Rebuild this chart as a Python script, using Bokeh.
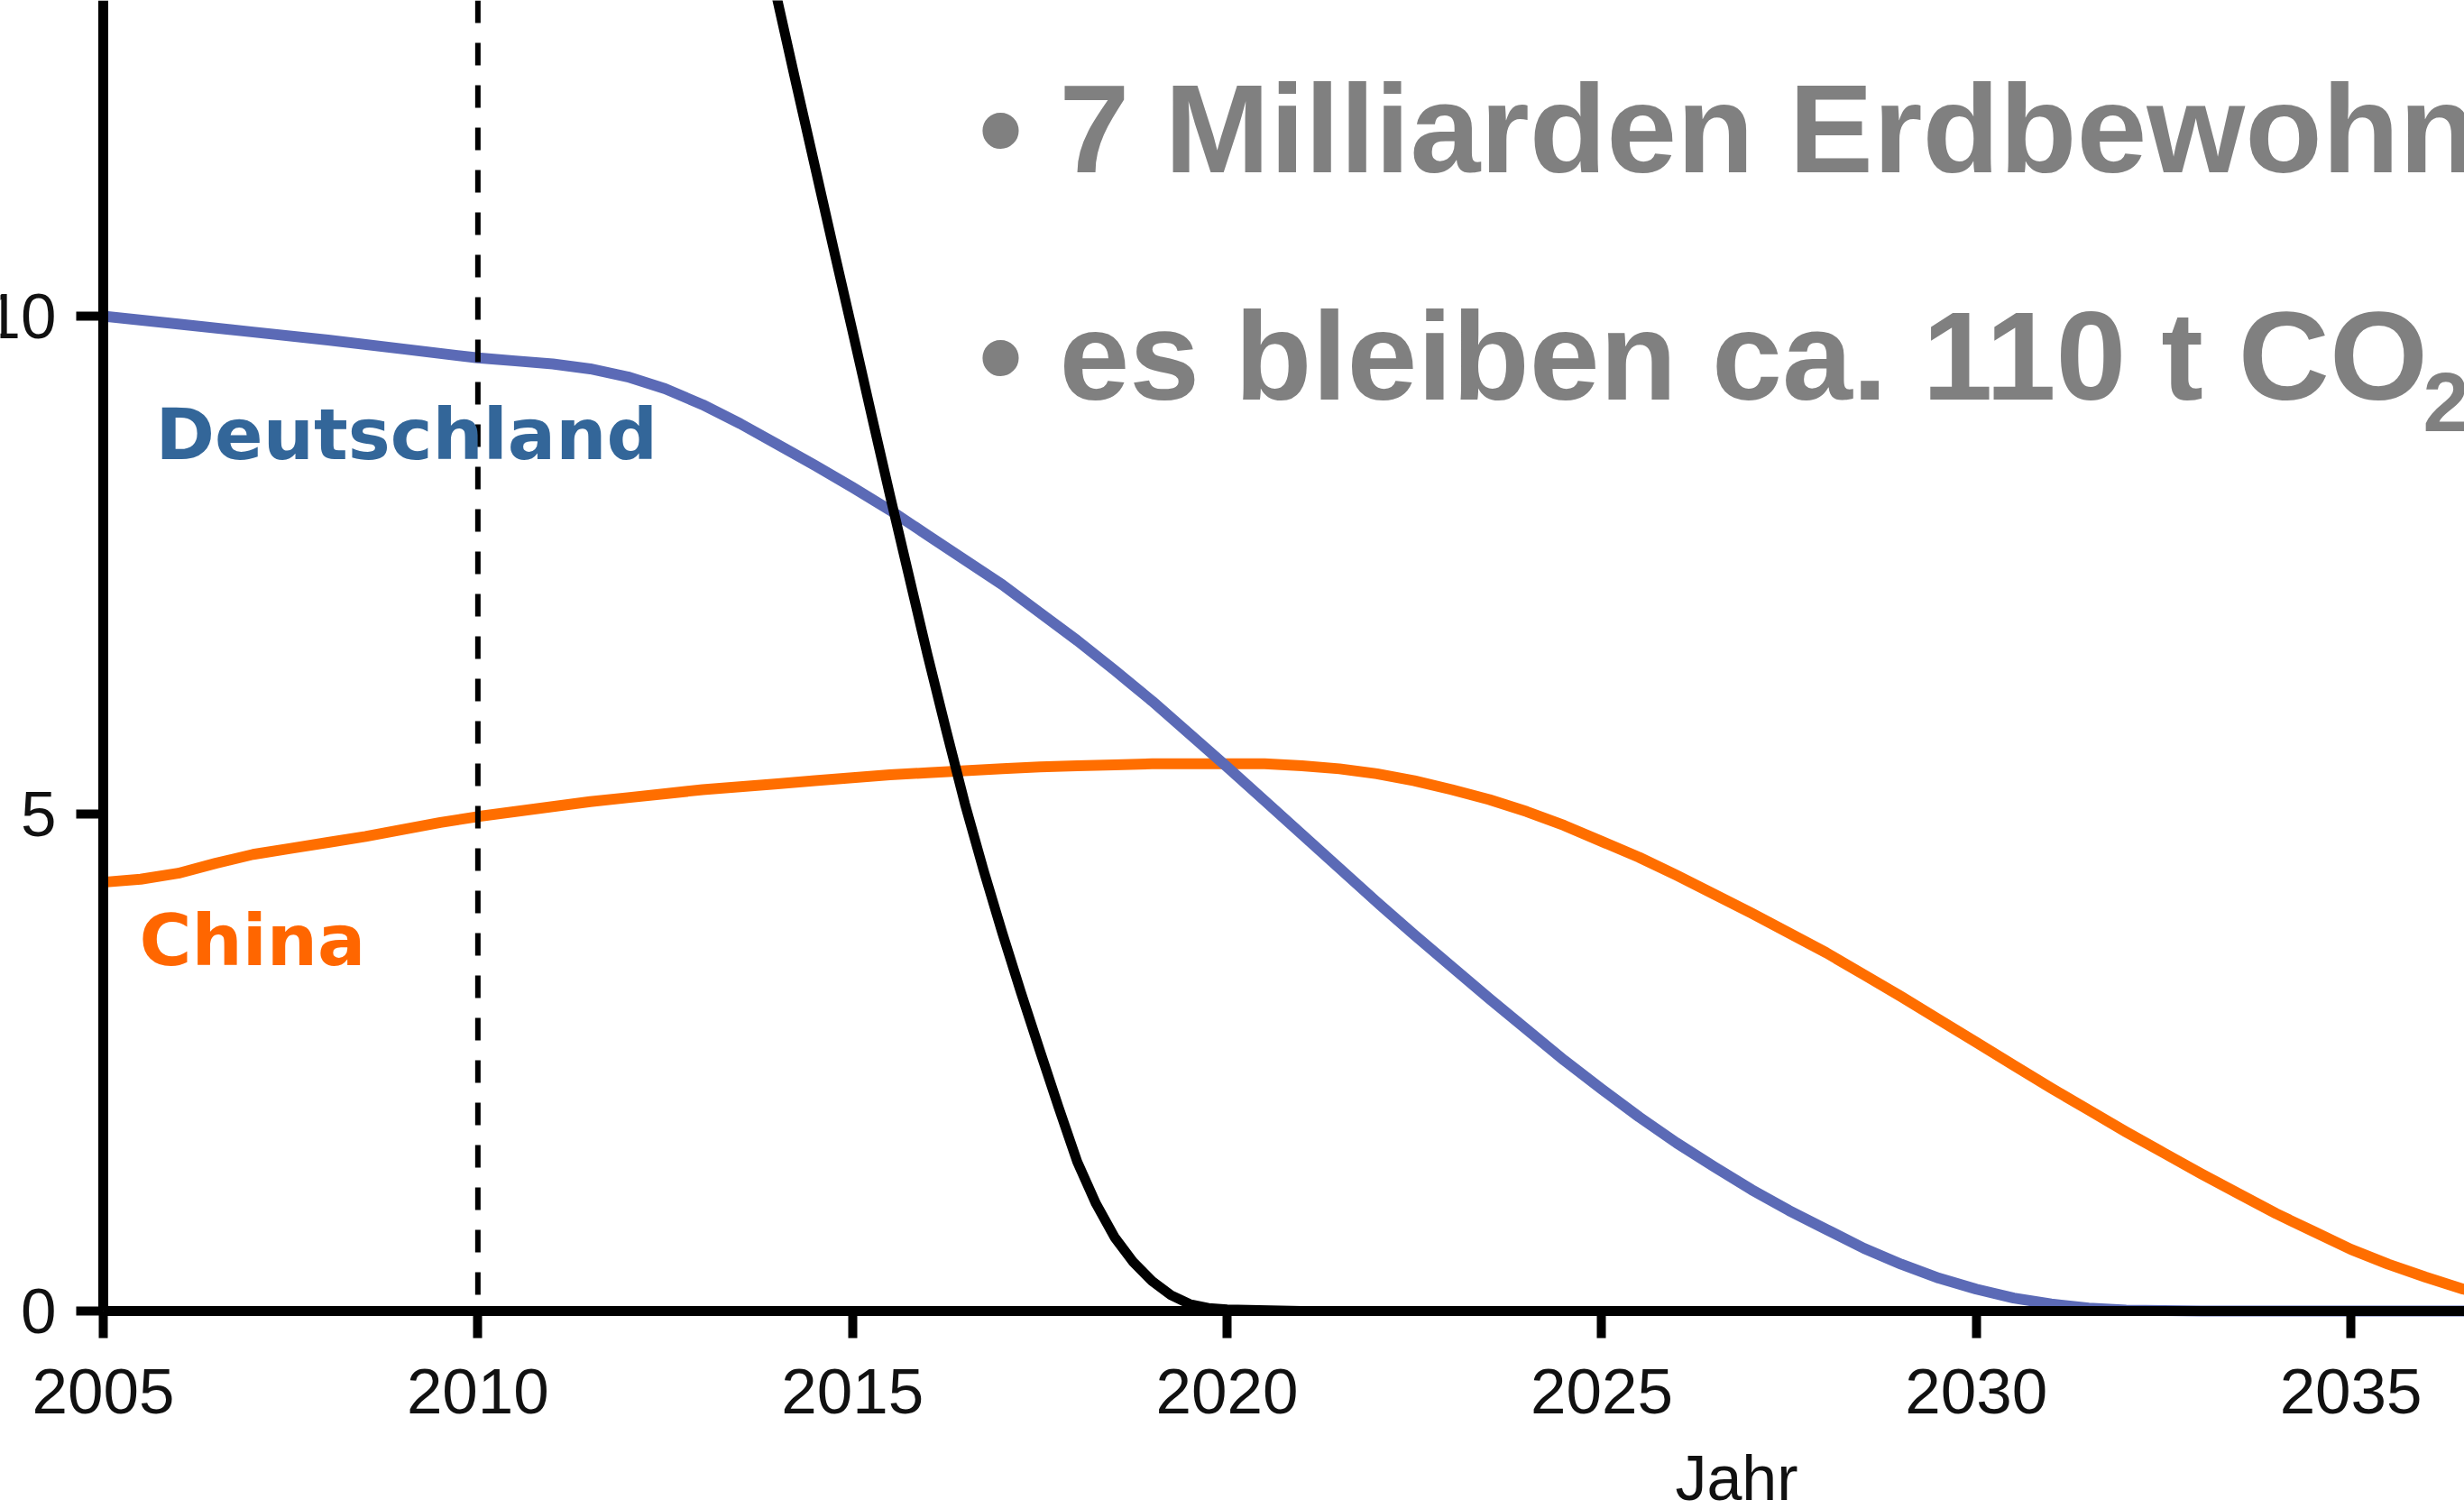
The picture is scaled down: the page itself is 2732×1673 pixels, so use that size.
from bokeh.plotting import figure
from bokeh.models import Range1d, FixedTicker, Label
from bokeh.embed import file_html
from bokeh.resources import INLINE

# ---------------- data ----------------
years_de = [2005, 2006, 2007, 2008, 2009, 2010, 2010.5, 2011, 2011.5, 2012,
            2012.5, 2013, 2013.5, 2014, 2014.5, 2015, 2015.5, 2016, 2016.5,
            2017, 2017.5, 2018, 2018.5, 2019, 2019.5, 2020, 2020.5, 2021,
            2021.5, 2022, 2022.5, 2023, 2023.5, 2024, 2024.5, 2025, 2025.5,
            2026, 2026.5, 2027, 2027.5, 2028, 2028.5, 2029, 2029.5, 2030,
            2030.5, 2031, 2031.5, 2032, 2033, 2037]
co2_de = [10.00, 9.92, 9.84, 9.76, 9.67, 9.58, 9.55, 9.52, 9.47, 9.39,
          9.27, 9.11, 8.92, 8.71, 8.50, 8.28, 8.05, 7.80, 7.55,
          7.30, 7.02, 6.74, 6.44, 6.13, 5.80, 5.47, 5.13, 4.79,
          4.45, 4.11, 3.78, 3.46, 3.14, 2.83, 2.52, 2.23, 1.95,
          1.69, 1.45, 1.22, 1.01, 0.82, 0.63, 0.47, 0.33, 0.22,
          0.13, 0.07, 0.03, 0.01, 0.0, 0.0]

years_cn = [2005, 2005.5, 2006, 2006.5, 2007, 2007.5, 2008, 2008.5, 2009,
            2009.5, 2010, 2010.5, 2011, 2011.5, 2012, 2012.5, 2013, 2013.5,
            2014, 2014.5, 2015, 2015.5, 2016, 2016.5, 2017, 2017.5, 2018,
            2018.5, 2019, 2019.5, 2020, 2020.5, 2021, 2021.5, 2022, 2022.5,
            2023, 2023.5, 2024, 2024.5, 2025, 2025.5, 2026, 2026.5, 2027,
            2027.5, 2028, 2028.5, 2029, 2029.5, 2030, 2030.5, 2031, 2031.5,
            2032, 2032.5, 2033, 2033.5, 2034, 2034.5, 2035, 2035.5, 2036,
            2036.5, 2037]
co2_cn = [4.31, 4.34, 4.40, 4.50, 4.59, 4.65, 4.71, 4.77, 4.84,
          4.91, 4.97, 5.02, 5.07, 5.12, 5.16, 5.20, 5.24, 5.27,
          5.30, 5.33, 5.36, 5.39, 5.41, 5.43, 5.45, 5.47, 5.48,
          5.49, 5.50, 5.50, 5.50, 5.50, 5.48, 5.45, 5.40, 5.33,
          5.24, 5.14, 5.02, 4.88, 4.72, 4.56, 4.38, 4.19, 4.00,
          3.80, 3.60, 3.38, 3.16, 2.93, 2.70, 2.47, 2.24, 2.02,
          1.80, 1.59, 1.38, 1.18, 0.98, 0.80, 0.62, 0.47, 0.34,
          0.22, 0.14]

years_world = [2013.6, 2014.0, 2014.25, 2014.5, 2014.75, 2015.0, 2015.25,
               2015.5, 2015.75, 2016.0, 2016.25, 2016.5, 2016.75, 2017.0,
               2017.25, 2017.5, 2017.75, 2018.0, 2018.25, 2018.5, 2018.75,
               2019.0, 2019.25, 2019.5, 2019.75, 2020.0, 2021.0, 2037.0]
co2_world = [14.5, 13.17, 12.33, 11.5, 10.67, 9.85, 9.02,
             8.2, 7.4, 6.6, 5.84, 5.1, 4.43, 3.8,
             3.2, 2.62, 2.05, 1.5, 1.08, 0.74, 0.49,
             0.30, 0.16, 0.07, 0.03, 0.015, 0.0, 0.0]

x_ticks = [2005, 2010, 2015, 2020, 2025, 2030, 2035]
y_ticks = [0, 5, 10]
x_start = 2005
marker_year = 2010

x_title = "Jahr"
label_de = "Deutschland"
label_cn = "China"
bullet_1 = "7 Milliarden Erdbewohner"
bullet_2 = "es bleiben ca. 110 t CO"
bullet_2_sub = "2"

# ---------------- layout ----------------
SX0 = 114         # screen x of year 2005
SY0 = 1453        # screen y of value 0
PX_X = 83.07      # pixels per year
PX_Y = 110.3      # pixels per unit
WIN_W, WIN_H = 2732, 1673

X0 = x_start - SX0 / PX_X
X1 = x_start + (WIN_W - SX0) / PX_X
Y0 = -(WIN_H - SY0) / PX_Y
Y1 = SY0 / PX_Y

BASE_FIX = 0.35   # label baseline correction (fraction of font size)


def dx(sx):
    return X0 + sx / PX_X


def dy(sy, size=0):
    return (SY0 - (sy - BASE_FIX * size)) / PX_Y


p = figure(width=WIN_W, height=WIN_H,
           x_range=Range1d(X0, X1), y_range=Range1d(Y0, Y1),
           output_backend="svg", toolbar_location=None,
           min_border_left=0, min_border_right=0,
           min_border_top=0, min_border_bottom=0)
p.grid.visible = False
p.outline_line_color = None
p.background_fill_color = "white"
p.border_fill_color = "white"

for ax in (p.xaxis[0], p.yaxis[0]):
    ax.axis_line_width = 11
    ax.axis_line_color = "black"
    ax.major_tick_line_width = 10
    ax.major_tick_line_color = "black"
    ax.major_tick_out = 30
    ax.major_tick_in = 0
    ax.minor_tick_line_color = None
    ax.major_label_text_font = "Liberation Sans"
    ax.major_label_text_font_size = "71px"
    ax.major_label_text_color = "#111111"

p.xaxis.fixed_location = 0
p.xaxis.bounds = (x_start, X1)
p.yaxis.fixed_location = x_start
p.yaxis.bounds = (0, Y1)
p.xaxis.major_label_standoff = 34
p.yaxis.major_label_standoff = 22
p.xaxis.ticker = FixedTicker(ticks=x_ticks)
p.yaxis.ticker = FixedTicker(ticks=y_ticks)

p.line(years_cn, co2_cn, line_color="#FF6E00", line_width=12,
       line_join="round")
p.line(years_de, co2_de, line_color="#5B6AB6", line_width=12,
       line_join="round")
p.line(years_world, co2_world, line_color="black", line_width=11,
       line_join="round")

p.segment(x0=[marker_year], y0=[Y1], x1=[marker_year], y1=[0],
          line_color="black", line_width=6, line_dash="25 22")

p.add_layout(Label(x=dx(172), y=dy(509, 79), text=label_de,
                   text_font="DejaVu Sans", text_font_style="bold",
                   text_font_size="79px", text_color="#336699",
                   text_baseline="alphabetic"))
p.add_layout(Label(x=dx(154), y=dy(1070, 79), text=label_cn,
                   text_font="DejaVu Sans", text_font_style="bold",
                   text_font_size="79px", text_color="#FF6600",
                   text_baseline="alphabetic"))

for base in (191, 443):
    p.add_layout(Label(x=dx(1109), y=dy(base, 140), text="\u2022",
                       text_font="Liberation Sans", text_font_style="bold",
                       text_font_size="140px", text_color="#808080",
                       text_align="center", text_baseline="alphabetic"))

p.add_layout(Label(x=dx(1174), y=dy(191, 140), text=bullet_1,
                   text_font="Liberation Sans", text_font_style="bold",
                   text_font_size="140px", text_color="#808080",
                   text_baseline="alphabetic"))
p.add_layout(Label(x=dx(1174), y=dy(443, 140), text=bullet_2,
                   text_font="Liberation Sans", text_font_style="bold",
                   text_font_size="140px", text_color="#808080",
                   text_baseline="alphabetic"))
p.add_layout(Label(x=dx(2686), y=dy(478, 92), text=bullet_2_sub,
                   text_font="Liberation Sans", text_font_style="bold",
                   text_font_size="92px", text_color="#808080",
                   text_baseline="alphabetic"))

p.add_layout(Label(x=dx(1925), y=dy(1663, 70), text=x_title,
                   text_font="Liberation Sans", text_font_size="70px",
                   text_color="#111111", text_align="center",
                   text_baseline="alphabetic"))

open("out.html", "w").write(file_html(p, INLINE))
